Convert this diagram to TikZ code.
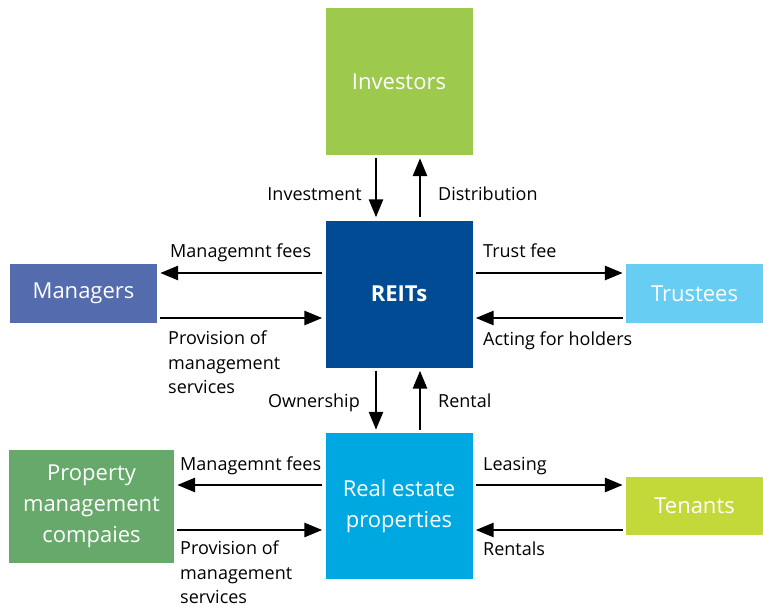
\documentclass[tikz,border=0pt]{standalone}
\usepackage{fontspec}
\setmainfont{Open Sans}
\usepackage{xcolor}
\usetikzlibrary{arrows.meta, positioning, calc}

\definecolor{investgreen}{HTML}{9DCA4C}
\definecolor{reitblue}{HTML}{004B93}
\definecolor{managerblue}{HTML}{546CAE}
\definecolor{trusteeblue}{HTML}{67CDF2}
\definecolor{estateblue}{HTML}{00A8E1}
\definecolor{pmgreen}{HTML}{67A96B}
\definecolor{tenantgreen}{HTML}{C3D93A}

\tikzset{
  box/.style={fill=#1, text=white, inner sep=0pt, align=center,
    font=\fontsize{22}{31}\selectfont},
  flow/.style={line width=2.8pt, -{Triangle[length=18pt,width=14pt]},
    shorten <=3pt, shorten >=3pt},
  lbl/.style={inner sep=0pt, align=left, font=\fontsize{18}{24.5}\selectfont}
}

\begin{document}
\begin{tikzpicture}[x=1pt, y=-1pt]
				\useasboundingbox (0,0) rectangle (763,607);
				
				% Boxes
				\node[box=investgreen, minimum width=147pt, minimum height=147pt] (investors) at (399,81.5) {Investors};
				\node[box=reitblue, minimum width=147pt, minimum height=147pt, font=\fontsize{22}{31}\selectfont\bfseries] (reits) at (399,294) {REITs};
				\node[box=estateblue, minimum width=147pt, minimum height=146pt] (estate) at (399,506) {Real estate\\properties};
				\node[box=managerblue, minimum width=147pt, minimum height=59pt] (managers) at (83.5,293.5) {Managers};
				\node[box=trusteeblue, minimum width=137pt, minimum height=59pt] (trustees) at (694.5,293.5) {Trustees};
				\node[box=pmgreen, minimum width=165pt, minimum height=113pt] (pmc) at (91.5,506.5) {Property\\management\\compaies};
				\node[box=tenantgreen, minimum width=137pt, minimum height=58pt] (tenants) at (694.5,506) {Tenants};
				
				% Investors <-> REITs
				\draw[flow] ([xshift=-23pt]investors.south) -- ([xshift=-23pt]reits.north);
				\draw[flow] ([xshift=21pt]reits.north) -- ([xshift=21pt]investors.south);
				\node[lbl, anchor=base east] (investlbl) at (362,200) {Investment};
				\node[lbl, anchor=base west] (distlbl) at (438,200) {Distribution};
				
				% REITs <-> Managers
				\draw[flow] ([yshift=21pt]reits.west) -- ([yshift=21pt]reits.west -| managers.east);
				\draw[flow] ([yshift=-24pt]reits.west -| managers.east) -- ([yshift=-24pt]reits.west);
				\node[lbl, anchor=base west] (mfeelbl) at (170,257) {Managemnt fees};
				\node[lbl, anchor=north west] (provlbl) at (168,331) {Provision of\\management\\services};
				
				% REITs <-> Trustees
				\draw[flow] ([yshift=21pt]reits.east) -- ([yshift=21pt]reits.east -| trustees.west);
				\draw[flow] ([yshift=-24pt]reits.east -| trustees.west) -- ([yshift=-24pt]reits.east);
				\node[lbl, anchor=base west] (trustlbl) at (483,257) {Trust fee};
				\node[lbl, anchor=base west] (actlbl) at (483,345) {Acting for holders};
				
				% REITs <-> Real estate
				\draw[flow] ([xshift=-23pt]reits.south) -- ([xshift=-23pt]estate.north);
				\draw[flow] ([xshift=21pt]estate.north) -- ([xshift=21pt]reits.south);
				\node[lbl, anchor=base east] (ownlbl) at (360,407) {Ownership};
				\node[lbl, anchor=base west] (rentlbl) at (438,407) {Rental};
				
				% Real estate <-> Property management
				\draw[flow] ([yshift=21pt]estate.west) -- ([yshift=21pt]estate.west -| pmc.east);
				\draw[flow] ([yshift=-24pt]estate.west -| pmc.east) -- ([yshift=-24pt]estate.west);
				\node[lbl, anchor=base west] (pmfeelbl) at (180,470) {Managemnt fees};
				\node[lbl, anchor=north west] (pmprovlbl) at (180,541) {Provision of\\management\\services};
				
				% Real estate <-> Tenants
				\draw[flow] ([yshift=21pt]estate.east) -- ([yshift=21pt]estate.east -| tenants.west);
				\draw[flow] ([yshift=-24pt]estate.east -| tenants.west) -- ([yshift=-24pt]estate.east);
				\node[lbl, anchor=base west] (leaselbl) at (483,470) {Leasing};
				\node[lbl, anchor=base west] (rentalslbl) at (483,555) {Rentals};
			\end{tikzpicture}
\end{document}
